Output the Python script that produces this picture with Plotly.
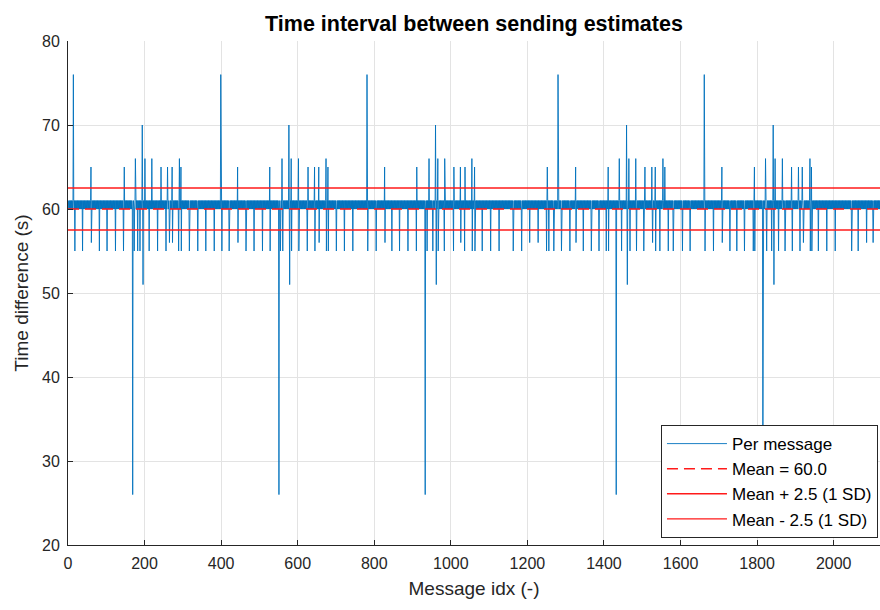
import plotly.graph_objects as go

# ---- data -------------------------------------------------------------
n_msgs = 2124                      # number of interval samples
base_levels = [61.0, 60.0]         # normal jitter of the send interval (s)

# positive excursions (late messages)
up_idx = [14, 60, 147, 176, 194, 201, 219, 243, 260, 272, 291, 295,
          399, 443, 527, 559, 577, 583, 602, 627, 644, 655, 674, 679,
          781, 827, 911, 943, 960, 966, 984, 1008, 1025, 1037, 1055, 1062,
          1252, 1280, 1326, 1411, 1440, 1459, 1465, 1483, 1507, 1525, 1534,
          1554, 1559, 1662, 1708, 1793, 1822, 1842, 1847, 1866, 1890, 1908,
          1918, 1938, 1942]
up_val = [76, 65, 65, 66, 70, 66, 66, 65, 65, 65, 66, 65,
          76, 65, 65, 66, 70, 66, 66, 65, 65, 65, 66, 65,
          76, 65, 65, 66, 70, 66, 66, 65, 65, 65, 66, 65,
          65, 76, 65, 65, 66, 70, 66, 66, 65, 65, 65,
          66, 65, 76, 65, 65, 66, 70, 66, 66, 65, 65,
          65, 66, 65]

# negative excursions (early messages)
down_idx = [18, 38, 61, 82, 102, 124, 145, 169, 173, 182, 188, 196, 212,
            234, 256, 265, 273, 289, 296, 317, 339, 360, 382, 402, 421, 444,
            465, 486, 508, 528, 551, 555, 561, 579, 584, 603, 625, 645, 656,
            675, 680, 701, 722, 744, 783, 805, 828, 846, 866, 888, 910, 933,
            938, 953, 962, 967, 983, 1007, 1026, 1036, 1056, 1063, 1082, 1104,
            1126, 1163, 1185, 1206, 1228, 1250, 1256, 1269, 1289, 1311, 1327,
            1346, 1367, 1387, 1406, 1412, 1432, 1446, 1461, 1468, 1485, 1504,
            1527, 1535, 1546, 1568, 1581, 1605, 1625, 1664, 1686, 1709, 1729,
            1747, 1767, 1790, 1794, 1815, 1825, 1838, 1844, 1856, 1873, 1892,
            1912, 1921, 1939, 1943, 1960, 1982, 2004, 2047, 2064, 2086, 2103]
down_val = [55, 55, 56, 55, 55, 55, 55, 26, 55, 55, 55, 51, 55,
            55, 55, 56, 56, 55, 55, 55, 55, 55, 55, 55, 55, 56,
            55, 55, 55, 55, 26, 55, 55, 51, 55, 55, 55, 55, 56,
            55, 55, 55, 55, 55, 55, 55, 56, 55, 55, 55, 55, 26,
            55, 55, 51, 55, 55, 55, 56, 55, 55, 55, 55, 55,
            55, 55, 55, 56, 56, 55, 55, 55, 55, 55, 56,
            55, 55, 55, 55, 55, 26, 55, 51, 55, 55, 55,
            56, 55, 55, 55, 55, 55, 55, 55, 55, 56, 55,
            55, 55, 55, 55, 26, 55, 55, 51, 55, 55, 55,
            55, 56, 55, 55, 55, 55, 55, 55, 55, 56, 56]

mean_val = 60.0
sd_val = 2.5

x_ticks = [0, 200, 400, 600, 800, 1000, 1200, 1400, 1600, 1800, 2000]
y_ticks = [20, 30, 40, 50, 60, 70, 80]

# ---- series assembly ---------------------------------------------------
idx = list(range(1, n_msgs + 1))
dt = [base_levels[i % 2] for i in range(n_msgs)]
for i, v in zip(up_idx, up_val):
    dt[i - 1] = v
for i, v in zip(down_idx, down_val):
    dt[i - 1] = v

x_lo, x_hi = 0, 2121
blue = "#0072BD"
red = "#FF1A1A"
ink = "#262626"
font = "Liberation Sans, Arial, sans-serif"

fig = go.Figure()
fig.add_trace(go.Scatter(x=idx, y=dt, mode="lines", name="Per message",
                         line=dict(color=blue, width=0.9)))
fig.add_trace(go.Scatter(x=[x_lo, x_hi], y=[mean_val, mean_val], mode="lines",
                         name=f"Mean = {mean_val:.1f}",
                         line=dict(color=red, width=1.4, dash="11px,6px")))
fig.add_trace(go.Scatter(x=[x_lo, x_hi], y=[mean_val + sd_val] * 2, mode="lines",
                         name=f"Mean + {sd_val:.1f} (1 SD)",
                         line=dict(color=red, width=1.4)))
fig.add_trace(go.Scatter(x=[x_lo, x_hi], y=[mean_val - sd_val] * 2, mode="lines",
                         name=f"Mean - {sd_val:.1f} (1 SD)",
                         line=dict(color=red, width=1.4)))

axis_common = dict(
    showgrid=True, gridcolor="#e3e3e3", gridwidth=1,
    showline=True, linecolor=ink, linewidth=1,
    ticks="inside", ticklen=5, tickcolor=ink, tickwidth=1,
    tickfont=dict(family=font, size=16, color=ink),
    zeroline=False, ticklabelstandoff=4,
)

fig.update_layout(
    width=880, height=610,
    margin=dict(l=68, r=0, t=41, b=65),
    paper_bgcolor="white", plot_bgcolor="white",
    font=dict(family=font, color=ink),
    title=dict(text="<b>Time interval between sending estimates</b>",
               x=0.5386, xanchor="center", y=1 - 23 / 610, yanchor="middle",
               font=dict(family=font, size=21.5, color="#000000")),
    xaxis=dict(range=[x_lo, x_hi], tickvals=x_ticks,
               title=dict(text="Message idx (-)", standoff=10,
                          font=dict(family=font, size=19, color=ink)),
               **axis_common),
    yaxis=dict(range=[20, 80], tickvals=y_ticks,
               title=dict(text="Time difference (s)", standoff=8,
                          font=dict(family=font, size=19, color=ink)),
               **axis_common),
    legend=dict(x=0.9975, xanchor="right", y=0.238, yanchor="top",
                bgcolor="white", bordercolor=ink, borderwidth=1,
                font=dict(family=font, size=17, color="#000000"),
                itemwidth=60, tracegroupgap=1),
    showlegend=True,
)

fig.write_html("out.html")
